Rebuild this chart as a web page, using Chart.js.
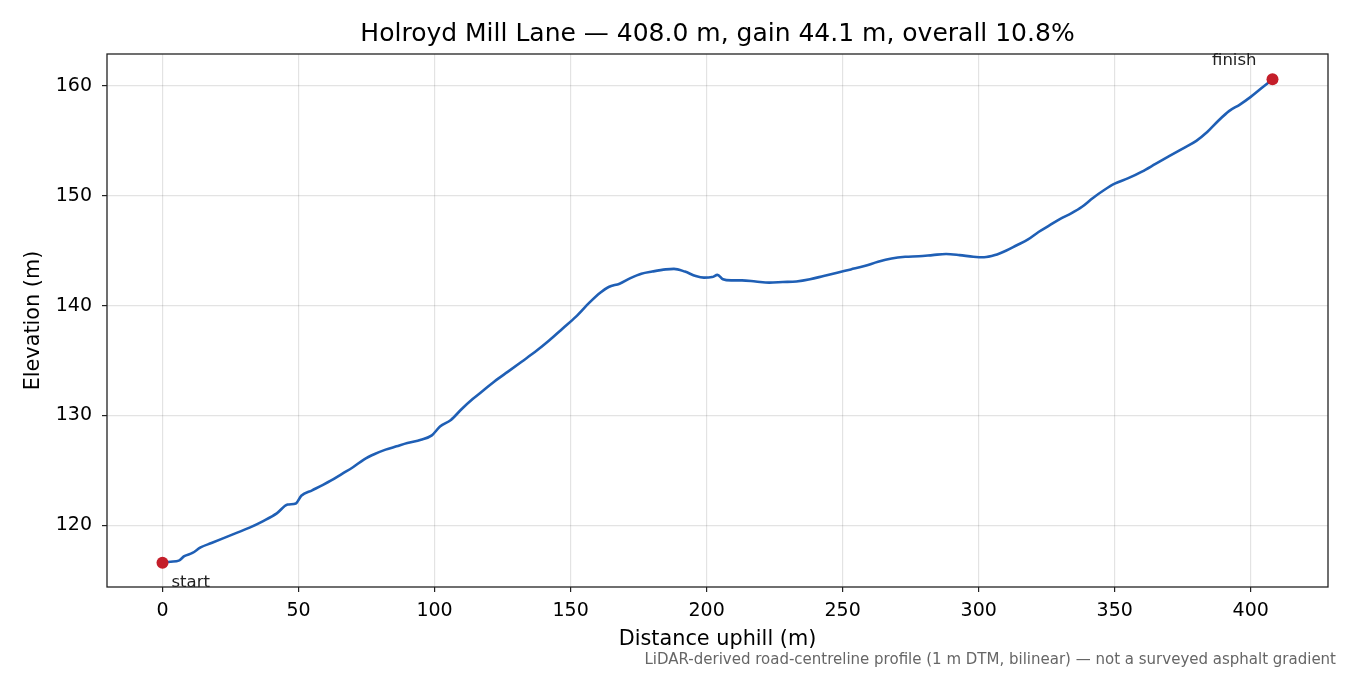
<!DOCTYPE html>
<html>
<head>
<meta charset="utf-8">
<title>Holroyd Mill Lane profile</title>
<script src="https://cdn.jsdelivr.net/npm/chart.js@4.4.1/dist/chart.umd.min.js"></script>
<style>
  html, body { margin: 0; padding: 0; background: #fff; overflow: hidden; }
  .chart-box { width: 1350px; height: 675px; position: relative; }
</style>
</head>
<body>
<div class="chart-box"><canvas id="profile-chart" width="1350" height="675"></canvas></div>
<script>
const distance = [0, 3, 6, 8, 11, 14, 18, 22, 27, 32, 37, 42, 46, 49, 51, 55, 59, 62, 66, 70,
    74, 78, 82, 86, 90, 95, 99, 102, 106, 110, 114, 118, 122, 127, 132, 137, 142, 147, 152, 157,
    161, 164, 168, 172, 176, 180, 185, 188, 192, 196, 199, 202, 204, 206, 209, 213, 218, 223, 228, 233,
    238, 243, 248, 253, 258, 263, 268, 273, 278, 283, 288, 293, 298, 302, 306, 310, 314, 318, 322, 326,
    330, 334, 338, 342, 346, 350, 355, 360, 365, 370, 375, 380, 384, 388, 392, 396, 400, 404, 408];

const elevation = [116.6, 116.7, 116.8, 117.2, 117.5, 118.0, 118.4, 118.8, 119.3, 119.8, 120.4, 121.1, 121.9, 122.0, 122.7, 123.2, 123.7, 124.1, 124.7, 125.3,
    126.0, 126.5, 126.9, 127.2, 127.5, 127.8, 128.2, 129.0, 129.6, 130.6, 131.5, 132.3, 133.1, 134.0, 134.9, 135.8, 136.8, 137.9, 139.0, 140.3,
    141.2, 141.7, 142.0, 142.5, 142.9, 143.1, 143.3, 143.35, 143.1, 142.7, 142.55, 142.6, 142.8, 142.4, 142.3, 142.3, 142.2, 142.1, 142.15, 142.2,
    142.4, 142.7, 143.0, 143.3, 143.6, 144.0, 144.3, 144.45, 144.5, 144.6, 144.7, 144.6, 144.45, 144.4, 144.6, 145.0, 145.5, 146.0, 146.7, 147.3,
    147.9, 148.4, 149.0, 149.8, 150.5, 151.1, 151.6, 152.2, 152.9, 153.6, 154.3, 155.0, 155.8, 156.8, 157.7, 158.3, 159.0, 159.8, 160.6];

const xTicks = [0, 50, 100, 150, 200, 250, 300, 350, 400];
const yTicks = [120, 130, 140, 150, 160];

const titleText = 'Holroyd Mill Lane — 408.0 m, gain 44.1 m, overall 10.8%';
const noteText = 'LiDAR-derived road-centreline profile (1 m DTM, bilinear) — not a surveyed asphalt gradient';

const font = 'DejaVu Sans, sans-serif';

const ends = [
    { x: distance[0], y: elevation[0], label: 'start', dx: 9, dy: 20, align: 'left' },
    { x: distance[distance.length - 1], y: elevation[elevation.length - 1], label: 'finish', dx: -16, dy: -18, align: 'right' },
];

// рамка, заголовок, подписи start/finish и сноска
const decorPlugin = {
    id: 'decor',
    afterDatasetsDraw(chart) {
        const c = chart.ctx,
            xs = chart.scales.x,
            ys = chart.scales.y;

        c.save();
        c.font = '16.5px ' + font;
        c.fillStyle = '#222';
        c.textBaseline = 'alphabetic';
        ends.forEach(p => {
            c.textAlign = p.align;
            c.fillText(p.label, xs.getPixelForValue(p.x) + p.dx, ys.getPixelForValue(p.y) + p.dy + 4);
        });
        c.restore();
    },
    afterDraw(chart) {
        const c = chart.ctx,
            area = chart.chartArea;

        c.save();
        c.strokeStyle = '#222';
        c.lineWidth = 1.3;
        c.strokeRect(area.left, area.top, area.right - area.left, area.bottom - area.top);

        c.fillStyle = '#000';
        c.font = '25px ' + font;
        c.textAlign = 'center';
        c.textBaseline = 'middle';
        c.fillText(titleText, (area.left + area.right) / 2, 34);

        c.fillStyle = '#666';
        c.font = '15px ' + font;
        c.textAlign = 'right';
        c.fillText(noteText, 1336, 660);
        c.restore();
    }
};

const ctx = document.querySelector('#profile-chart');

new Chart(ctx.getContext('2d'), {
    type: 'line',
    data: {
        datasets: [
            {
                label: 'profile',
                data: distance.map((d, i) => ({ x: d, y: elevation[i] })),
                borderColor: '#1f5fb5',
                borderWidth: 2.6,
                pointRadius: 0,
                fill: false,
                cubicInterpolationMode: 'monotone',
                order: 2,
            },
            {
                label: 'ends',
                data: ends.map(p => ({ x: p.x, y: p.y })),
                showLine: false,
                pointRadius: 6,
                pointBackgroundColor: '#c41e2a',
                pointBorderWidth: 0,
                order: 1,
            }
        ]
    },
    options: {
        responsive: false,
        animation: false,
        devicePixelRatio: 1,
        layout: {
            padding: { top: 54, right: 22, bottom: 23, left: 0 }
        },
        scales: {
            x: {
                type: 'linear',
                min: -20.4,
                max: 428.4,
                afterBuildTicks: scale => { scale.ticks = xTicks.map(v => ({ value: v })); },
                afterFit: scale => { scale.height = 65; },
                grid: {
                    color: 'rgba(0,0,0,0.11)',
                    tickColor: '#222',
                    tickLength: 5,
                    lineWidth: 1.2,
                },
                border: { display: false },
                ticks: {
                    color: '#000',
                    font: { family: font, size: 19 },
                    padding: 8,
                    maxRotation: 0,
                    autoSkip: false,
                },
                title: {
                    display: true,
                    text: 'Distance uphill (m)',
                    color: '#000',
                    font: { family: font, size: 20.8 },
                    padding: { top: 0, bottom: 0 },
                }
            },
            y: {
                type: 'linear',
                min: 114.4,
                max: 162.9,
                afterBuildTicks: scale => { scale.ticks = yTicks.map(v => ({ value: v })); },
                afterFit: scale => { scale.width = 107; },
                grid: {
                    color: 'rgba(0,0,0,0.11)',
                    tickColor: '#222',
                    tickLength: 5,
                    lineWidth: 1.2,
                },
                border: { display: false },
                ticks: {
                    color: '#000',
                    font: { family: font, size: 19 },
                    padding: 10,
                    autoSkip: false,
                },
                title: {
                    display: true,
                    text: 'Elevation (m)',
                    color: '#000',
                    font: { family: font, size: 20.8 },
                    padding: { top: 21, bottom: 0 },
                }
            }
        },
        plugins: {
            legend: { display: false },
            tooltip: { enabled: false },
        }
    },
    plugins: [decorPlugin]
});
</script>
</body>
</html>
